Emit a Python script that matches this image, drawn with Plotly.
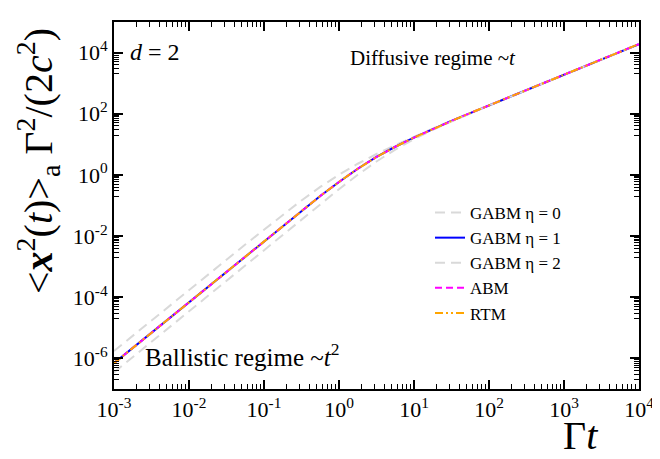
import plotly.graph_objects as go

# Data
gamma_t = [1e-3, 1.778e-3, 3.162e-3, 5.623e-3, 1e-2, 1.778e-2, 3.162e-2, 5.623e-2,
           1e-1, 0.1778, 0.3162, 0.5623, 1.0, 1.778, 3.162, 5.623,
           10.0, 17.78, 31.62, 56.23, 100.0, 177.8, 316.2, 562.3,
           1000.0, 1778.0, 3162.0, 5623.0, 10000.0]

gabm_eta1 = [7.0e-7, 2.21e-6, 7.0e-6, 2.21e-5, 6.98e-5, 2.20e-4, 6.93e-4, 2.17e-3,
             6.77e-3, 0.0216, 0.0677, 0.205, 0.589, 1.59, 3.86, 8.33,
             16.65, 31.5, 58.2, 105.0, 188.0, 336.0, 599.0, 1066.0,
             1898.0, 3376.0, 6006.0, 10680.0, 19000.0]

gabm_eta0 = [1.75e-6, 5.53e-6, 1.75e-5, 5.50e-5, 1.735e-4, 5.45e-4, 1.705e-3, 5.285e-3,
             0.01613, 0.0497, 0.1465, 0.404, 1.012, 2.32, 4.83, 9.40,
             17.76, 32.7, 59.3, 106.1, 189.2, 337.0, 600.0, 1067.0,
             1899.0, 3377.0, 6007.0, 10681.0, 19001.0]

gabm_eta2 = [3.5e-7, 1.105e-6, 3.5e-6, 1.105e-5, 3.49e-5, 1.103e-4, 3.48e-4, 1.096e-3,
             3.442e-3, 0.01113, 0.0356, 0.1119, 0.341, 1.008, 2.75, 6.74,
             14.82, 29.7, 56.3, 103.1, 186.2, 334.0, 597.0, 1065.0,
             1897.0, 3375.0, 6005.0, 10679.0, 18999.0]

abm = [7.0e-7, 2.21e-6, 7.0e-6, 2.21e-5, 6.98e-5, 2.20e-4, 6.93e-4, 2.17e-3,
       6.77e-3, 0.0216, 0.0677, 0.205, 0.589, 1.59, 3.86, 8.33,
       16.65, 31.5, 58.2, 105.0, 188.0, 336.0, 599.0, 1066.0,
       1898.0, 3376.0, 6006.0, 10680.0, 19000.0]

rtm = [7.0e-7, 2.21e-6, 7.0e-6, 2.21e-5, 6.98e-5, 2.20e-4, 6.93e-4, 2.17e-3,
       6.77e-3, 0.0216, 0.0677, 0.205, 0.589, 1.59, 3.86, 8.33,
       16.65, 31.5, 58.2, 105.0, 188.0, 336.0, 599.0, 1066.0,
       1898.0, 3376.0, 6006.0, 10680.0, 19000.0]

x_tickvals = [1e-3, 1e-2, 1e-1, 1e0, 1e1, 1e2, 1e3, 1e4]
x_ticktext = ["10<sup>-3</sup>", "10<sup>-2</sup>", "10<sup>-1</sup>", "10<sup>0</sup>",
              "10<sup>1</sup>", "10<sup>2</sup>", "10<sup>3</sup>", "10<sup>4</sup>"]
y_tickvals = [1e-6, 1e-4, 1e-2, 1e0, 1e2, 1e4]
y_ticktext = ["10<sup>-6</sup>", "10<sup>-4</sup>", "10<sup>-2</sup>", "10<sup>0</sup>",
              "10<sup>2</sup>", "10<sup>4</sup>"]

FONT = "Liberation Serif"

x_minor = [k * 10.0 ** n for n in range(-3, 4) for k in range(2, 10)]
y_minor = [k * 10.0 ** n for n in range(-7, 5, 2) for k in range(2, 11)]

fig = go.Figure()
fig.add_trace(go.Scatter(x=gamma_t, y=gabm_eta0, mode="lines", name="GABM η = 0",
                         line=dict(color="#d9d9d9", width=2, dash="10px,6px")))
fig.add_trace(go.Scatter(x=gamma_t, y=gabm_eta1, mode="lines", name="GABM η = 1",
                         line=dict(color="#0000ff", width=2)))
fig.add_trace(go.Scatter(x=gamma_t, y=gabm_eta2, mode="lines", name="GABM η = 2",
                         line=dict(color="#d9d9d9", width=2, dash="10px,6px")))
fig.add_trace(go.Scatter(x=gamma_t, y=abm, mode="lines", name="ABM",
                         line=dict(color="#ff00ff", width=2, dash="7px,4px")))
fig.add_trace(go.Scatter(x=gamma_t, y=rtm, mode="lines", name="RTM",
                         line=dict(color="#ffa500", width=2, dash="8px,3px,2px,3px,2px,3px")))

axis_common = dict(
    showline=True, linecolor="black", linewidth=2, mirror="allticks",
    ticks="inside", ticklen=9, tickwidth=1.5, tickcolor="black",
    showgrid=False, zeroline=False,
    tickfont=dict(family=FONT, size=22, color="black"),
)

fig.update_xaxes(type="log", range=[-3, 4], tickmode="array",
                 tickvals=x_tickvals, ticktext=x_ticktext,
                 minor=dict(tickmode="array", tickvals=x_minor, ticks="inside",
                            ticklen=5, tickwidth=1, tickcolor="black"),
                 **axis_common)
fig.update_yaxes(type="log", range=[-7, 5], tickmode="array",
                 tickvals=y_tickvals, ticktext=y_ticktext,
                 minor=dict(tickmode="array", tickvals=y_minor, ticks="inside",
                            ticklen=5, tickwidth=1, tickcolor="black"),
                 **axis_common)

L, R, T, B = 106, 29, 14, 78
W, H = 660, 459
pw, ph = W - L - R, H - T - B


def px(xp):
    return (xp - L) / pw


def py(yp):
    return (H - B - yp) / ph


annotations = [
    dict(text="&lt;<b><i>x</i></b><sup>2</sup>(<i>t</i>)&gt;<sub>a</sub> Γ<sup>2</sup>/(2<i>c</i><sup>2</sup>)",
         x=px(30), y=py(153), textangle=-90, font=dict(family=FONT, size=40, color="black"),
         xanchor="center", yanchor="middle"),
    dict(text="Γ<i>t</i>", x=px(572), y=py(452), font=dict(family=FONT, size=40, color="black"),
         xanchor="center", yanchor="bottom"),
    dict(text="<i>d</i> = 2", x=px(120), y=py(44), font=dict(family=FONT, size=24, color="black"),
         xanchor="left", yanchor="middle"),
    dict(text="Diffusive regime ~<i>t</i>", x=px(340), y=py(50),
         font=dict(family=FONT, size=21, color="black"), xanchor="left", yanchor="middle"),
    dict(text="Ballistic regime ~<i>t</i><sup>2</sup>", x=px(135), y=py(347),
         font=dict(family=FONT, size=25, color="black"), xanchor="left", yanchor="middle"),
]
for a in annotations:
    a.update(xref="paper", yref="paper", showarrow=False)

fig.update_layout(
    width=W, height=H,
    margin=dict(l=L, r=R, t=T, b=B),
    paper_bgcolor="white", plot_bgcolor="white",
    annotations=annotations,
    showlegend=True,
    legend=dict(x=px(422), y=py(187), xanchor="left", yanchor="top",
                bgcolor="rgba(0,0,0,0)", borderwidth=0,
                font=dict(family=FONT, size=17, color="black"),
                itemwidth=30, tracegroupgap=0),
)

fig.write_html("out.html")
